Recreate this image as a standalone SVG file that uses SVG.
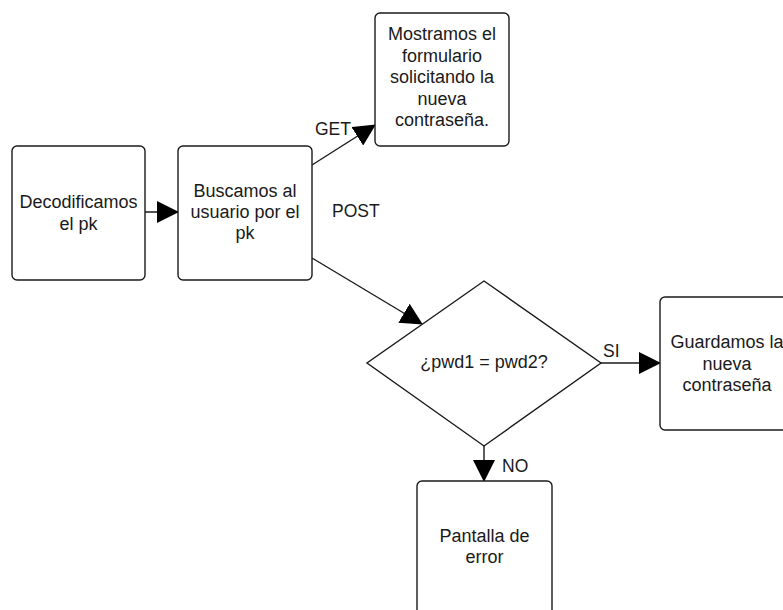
<svg xmlns="http://www.w3.org/2000/svg" width="783" height="610" viewBox="0 0 783 610">
<defs>
<style>
.box{fill:#fff;stroke:#1a1a1a;stroke-width:1.4}
.t{font-family:"Liberation Sans",Arial,sans-serif;font-size:18px;fill:#1a1a1a;text-anchor:middle}
.l{font-family:"Liberation Sans",Arial,sans-serif;font-size:17.5px;fill:#1a1a1a}
.c{stroke:#1a1a1a;stroke-width:1.4;fill:none;marker-end:url(#ah)}
</style>
<marker id="ah" markerUnits="userSpaceOnUse" markerWidth="22" markerHeight="22" refX="21" refY="11" orient="auto">
<path d="M0,0 L22,11 L0,22 z" fill="#000"/>
</marker>
</defs>
<rect width="783" height="610" fill="#fff"/>
<g id="connectors">
<line class="c" x1="145" y1="212" x2="178" y2="212"/>
<line class="c" x1="312" y1="165" x2="375" y2="125"/>
<line class="c" x1="312" y1="258" x2="422" y2="324"/>
<line class="c" x1="601" y1="363" x2="660" y2="363"/>
<line class="c" x1="484" y1="446" x2="484" y2="481"/>
<text class="l" x="315" y="135">GET</text>
<text class="l" x="332" y="217">POST</text>
<text class="l" x="603" y="357">SI</text>
<text class="l" x="502" y="472">NO</text>
</g>
<g id="decodificamos">
<rect class="box" x="12" y="146" width="133" height="134" rx="5"/>
<text class="t" x="78.5" y="208">Decodificamos</text>
<text class="t" x="78.5" y="229.5">el pk</text>
</g>
<g id="buscamos">
<rect class="box" x="178" y="146" width="134" height="134" rx="5"/>
<text class="t" x="245" y="197">Buscamos al</text>
<text class="t" x="245" y="218">usuario por el</text>
<text class="t" x="245" y="239">pk</text>
</g>
<g id="mostramos">
<rect class="box" x="375" y="13" width="134" height="133" rx="5"/>
<text class="t" x="442" y="40">Mostramos el</text>
<text class="t" x="442" y="61.5">formulario</text>
<text class="t" x="442" y="83">solicitando la</text>
<text class="t" x="442" y="104.5">nueva</text>
<text class="t" x="442" y="126">contraseña.</text>
</g>
<g id="decision">
<polygon class="box" points="484,281 601,363 484,446 367,363"/>
<text class="t" x="484" y="368">¿pwd1 = pwd2?</text>
</g>
<g id="guardamos">
<rect class="box" x="660" y="297" width="134" height="133" rx="5"/>
<text class="t" x="727" y="348">Guardamos la</text>
<text class="t" x="727" y="369.5">nueva</text>
<text class="t" x="727" y="391">contraseña</text>
</g>
<g id="error">
<rect class="box" x="417" y="481" width="135" height="134" rx="5"/>
<text class="t" x="484.5" y="542">Pantalla de</text>
<text class="t" x="484.5" y="562.5">error</text>
</g>
</svg>
